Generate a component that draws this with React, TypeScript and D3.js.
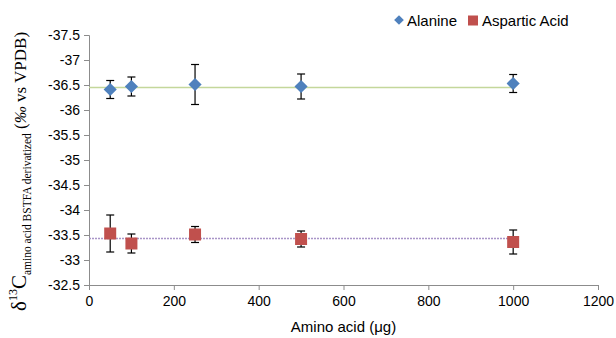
import React, { useEffect, useRef } from "react";
import * as d3 from "d3";

const amounts = [50, 100, 250, 500, 1000];
const alanine = [-36.41, -36.47, -36.51, -36.47, -36.53];
const alanineErr = [0.18, 0.19, 0.4, 0.25, 0.18];
const aspartic = [-33.53, -33.33, -33.51, -33.42, -33.36];
const asparticErr = [0.37, 0.19, 0.16, 0.16, 0.24];
const alanineMean = -36.45;
const asparticMean = -33.43;
const xTicks = [0, 200, 400, 600, 800, 1000, 1200];
const yTicks = [-37.5, -37, -36.5, -36, -35.5, -35, -34.5, -34, -33.5, -33, -32.5];

const App = () => {
  const svgRef = useRef<SVGSVGElement>(null);

  useEffect(() => {
    const svg = d3.select(svgRef.current);
    svg.selectAll("*").remove();

    const sans = "'Liberation Sans', Arial, Helvetica, sans-serif";
    const serif = "'Liberation Serif', 'Times New Roman', serif";

    const x = d3.scaleLinear().domain([0, 1200]).range([89, 598]);
    const y = d3.scaleLinear().domain([-37.5, -32.5]).range([35, 285]);

    // axes
    const xAxis = svg.append("g")
      .attr("transform", `translate(0,${y(-32.5)})`)
      .call(d3.axisBottom(x).tickValues(xTicks).tickSize(5).tickSizeOuter(5).tickPadding(6)
        .tickFormat(d => String(d)));
    const yAxis = svg.append("g")
      .attr("transform", `translate(${x(0)},0)`)
      .call(d3.axisLeft(y).tickValues(yTicks).tickSize(5).tickSizeOuter(5).tickPadding(4)
        .tickFormat(d => String(d)));
    [xAxis, yAxis].forEach(a => {
      a.select(".domain").attr("stroke", "#8c8c8c");
      a.selectAll(".tick line").attr("stroke", "#8c8c8c");
      a.selectAll(".tick text").attr("fill", "#000").style("font-family", sans).style("font-size", "14px");
    });

    // mean lines
    svg.append("line")
      .attr("x1", x(0)).attr("x2", x(1000))
      .attr("y1", y(alanineMean)).attr("y2", y(alanineMean))
      .attr("stroke", "#c4d79b").attr("stroke-width", 1.5);
    svg.append("line")
      .attr("x1", x(0)).attr("x2", x(1000))
      .attr("y1", y(asparticMean)).attr("y2", y(asparticMean))
      .attr("stroke", "#a995c8").attr("stroke-width", 1.5)
      .attr("stroke-dasharray", "2,1");

    const errorBars = (vals: number[], errs: number[]) => {
      const g = svg.append("g").attr("stroke", "#000").attr("stroke-width", 1.2);
      amounts.forEach((a, i) => {
        const cx = x(a);
        const top = y(vals[i] - errs[i]);
        const bot = y(vals[i] + errs[i]);
        g.append("line").attr("x1", cx).attr("x2", cx).attr("y1", top).attr("y2", bot);
        g.append("line").attr("x1", cx - 4).attr("x2", cx + 4).attr("y1", top).attr("y2", top);
        g.append("line").attr("x1", cx - 4).attr("x2", cx + 4).attr("y1", bot).attr("y2", bot);
      });
    };

    errorBars(alanine, alanineErr);
    errorBars(aspartic, asparticErr);

    const diamond = d3.symbol().type(d3.symbolDiamond2).size(110);
    svg.append("g").selectAll("path")
      .data(alanine)
      .enter()
      .append("path")
      .attr("d", diamond)
      .attr("transform", (d, i) => `translate(${x(amounts[i])},${y(d)})`)
      .attr("fill", "#4f81bd");

    svg.append("g").selectAll("rect")
      .data(aspartic)
      .enter()
      .append("rect")
      .attr("x", (d, i) => x(amounts[i]) - 6)
      .attr("y", d => y(d) - 6)
      .attr("width", 12)
      .attr("height", 12)
      .attr("fill", "#c0504d");

    // legend
    const legend = svg.append("g").style("font-family", sans).style("font-size", "15px");
    legend.append("path")
      .attr("d", d3.symbol().type(d3.symbolDiamond2).size(60))
      .attr("transform", "translate(399,20)")
      .attr("fill", "#4f81bd");
    legend.append("text").attr("x", 407).attr("y", 25.5).text("Alanine");
    legend.append("rect").attr("x", 468).attr("y", 15.5).attr("width", 10).attr("height", 10).attr("fill", "#c0504d");
    legend.append("text").attr("x", 482).attr("y", 25.5).text("Aspartic Acid");

    // axis titles
    svg.append("text")
      .attr("x", x(600)).attr("y", 332)
      .attr("text-anchor", "middle")
      .style("font-family", sans).style("font-size", "15px")
      .text("Amino acid (μg)");

    const yt = svg.append("text")
      .attr("transform", "translate(26,311) rotate(-90)")
      .style("font-family", serif)
      .attr("fill", "#000");
    yt.append("tspan").style("font-size", "21px").text("δ");
    yt.append("tspan").style("font-size", "12px").attr("dy", -9).text("13");
    yt.append("tspan").style("font-size", "21px").attr("dy", 9).text("C");
    yt.append("tspan").style("font-size", "11.5px").attr("dy", 5).text("amino acid BSTFA derivatized");
    yt.append("tspan").style("font-size", "17px").attr("dy", -5).text(" (");
    yt.append("tspan").style("font-size", "17px").style("font-style", "italic").text("‰");
    yt.append("tspan").style("font-size", "17px").text(" vs VPDB)");
  }, []);

  return <svg ref={svgRef} width={616} height={338} style={{ position: "absolute", left: 0, top: 0, display: "block" }} />;
};

export default App;
